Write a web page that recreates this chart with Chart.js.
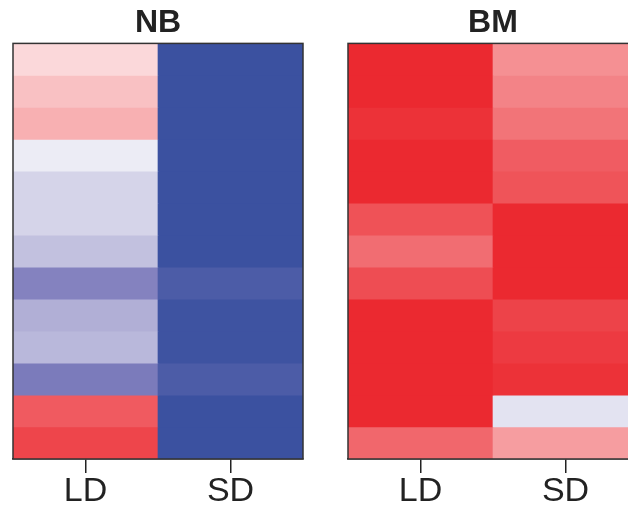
<!DOCTYPE html>
<html>
<head>
<meta charset="utf-8">
<script src="https://cdn.jsdelivr.net/npm/chart.js@4.4.0/dist/chart.umd.min.js"></script>
<style>
  html, body { margin: 0; padding: 0; background: #fff; overflow: hidden; width: 628px; height: 506px; }
  canvas { position: absolute; top: 0; }
  #nbChart { left: 0; }
  #bmChart { left: 335px; }
</style>
</head>
<body>
<canvas id="nbChart" width="314" height="506"></canvas>
<canvas id="bmChart" width="314" height="506"></canvas>
<script>
// columns and rows of both heatmaps
var conditions = ['LD', 'SD'];
var genes = ['g1', 'g2', 'g3', 'g4', 'g5', 'g6', 'g7', 'g8', 'g9', 'g10', 'g11', 'g12', 'g13'];

// scaled values (-1 = blue, 0 = white, 1 = red), read top to bottom
var nbLD = [0.18, 0.29, 0.37, -0.09, -0.20, -0.20, -0.29, -0.58, -0.37, -0.33, -0.63, 0.77, 0.87];
var nbSD = [-1, -1, -1, -1, -1, -1, -1, -0.90, -0.98, -0.98, -0.90, -1, -1];
var bmLD = [1, 1, 0.96, 1, 1, 0.81, 0.68, 0.83, 1, 1, 1, 1, 0.71];
var bmSD = [0.52, 0.58, 0.65, 0.76, 0.80, 1, 1, 1, 0.88, 0.92, 0.96, -0.13, 0.46];

// colour scale
var stops = [
	[-1, [59, 81, 160]],
	[-0.6, [128, 126, 189]],
	[0, [255, 255, 255]],
	[1, [235, 41, 48]]
];

function colorOf(v) {
	for (var i = 0; i < stops.length - 1; i++) {
		var a = stops[i], b = stops[i + 1];
		if (v <= b[0]) {
			var t = (v - a[0]) / (b[0] - a[0]);
			var c = [0, 1, 2].map(function (k) { return Math.round(a[1][k] + (b[1][k] - a[1][k]) * t); });
			return 'rgb(' + c.join(',') + ')';
		}
	}
	return 'rgb(235,41,48)';
}

// box around the plot area
var frame = {
	id: 'frame',
	afterDraw: function (chart) {
		var a = chart.chartArea, c = chart.ctx;
		c.save();
		c.strokeStyle = '#333';
		c.lineWidth = 1.5;
		c.strokeRect(a.left, a.top, a.right - a.left, a.bottom - a.top);
		c.restore();
	}
};

function heatmap(id, title, ld, sd) {
	var datasets = genes.map(function (g, i) {
		return {
			label: g,
			data: [[i, i + 1], [i, i + 1]],
			backgroundColor: [colorOf(ld[i]), colorOf(sd[i])],
			borderWidth: 0,
			barPercentage: 1,
			categoryPercentage: 1
		};
	});
	return new Chart(document.getElementById(id), {
		type: 'bar',
		data: { labels: conditions, datasets: datasets },
		options: {
			responsive: false,
			animation: false,
			layout: { padding: { left: 13, right: 11, top: 0, bottom: 0 } },
			plugins: {
				legend: { display: false },
				tooltip: { enabled: false },
				title: {
					display: true,
					text: title,
					color: '#222',
					font: { family: 'Liberation Sans', size: 32, weight: 'bold' },
					padding: { top: 4, bottom: 1 }
				}
			},
			scales: {
				x: {
					stacked: true,
					grid: { offset: false, drawOnChartArea: false, drawTicks: true, tickLength: 14, color: '#222', lineWidth: 1.5 },
					border: { display: true, color: '#333', width: 1.5 },
					ticks: { color: '#222', padding: -2, font: { family: 'Liberation Sans', size: 34 } },
					afterFit: function (s) { s.height = 47; }
				},
				y: {
					display: false,
					min: 0,
					max: genes.length,
					reverse: true
				}
			}
		},
		plugins: [frame]
	});
}

var nbChart = heatmap('nbChart', 'NB', nbLD, nbSD);
var bmChart = heatmap('bmChart', 'BM', bmLD, bmSD);
</script>
</body>
</html>
